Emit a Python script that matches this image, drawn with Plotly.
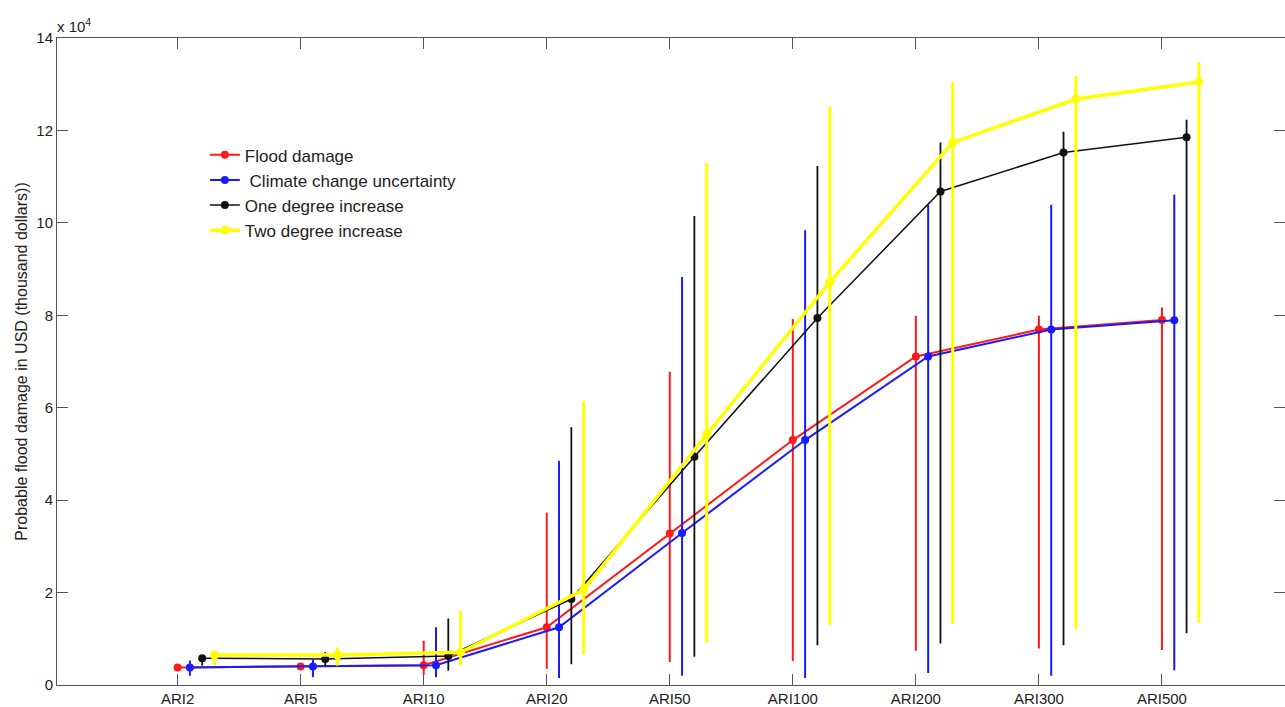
import plotly.graph_objects as go

categories = ["ARI2", "ARI5", "ARI10", "ARI20", "ARI50", "ARI100", "ARI200", "ARI300", "ARI500"]

flood = [3800, 4000, 4300, 12500, 32800, 53000, 71100, 76900, 79000]
flood_hi = [3800, 4000, 9600, 37300, 67800, 79200, 79900, 79900, 81700]
flood_lo = [3800, 4000, 2200, 3500, 5000, 5200, 7400, 7900, 7600]

climate = [3800, 4000, 4300, 12500, 32900, 53000, 71100, 76900, 78900]
climate_hi = [5300, 5500, 12500, 48500, 88300, 98400, 103900, 103900, 106100]
climate_lo = [2000, 1700, 1700, 1500, 2000, 1500, 2600, 2000, 3200]

one_deg = [5800, 5600, 6300, 18600, 49400, 79400, 106800, 115200, 118500]
one_deg_hi = [5800, 7100, 14400, 55800, 101500, 112300, 117400, 119700, 122300]
one_deg_lo = [4200, 4000, 3100, 4500, 6100, 8600, 9000, 8600, 11200]

two_deg = [6500, 6500, 7100, 20600, 54200, 87200, 117400, 126800, 130500]
two_deg_hi = [7200, 8100, 16000, 61400, 112900, 125100, 130500, 131800, 134700]
two_deg_lo = [4200, 4200, 4300, 6700, 9200, 13000, 13200, 12100, 13500]

y_ticks = [0, 20000, 40000, 60000, 80000, 100000, 120000, 140000]
y_tick_text = ["0", "2", "4", "6", "8", "10", "12", "14"]

series = [
    ("Flood damage", flood, flood_hi, flood_lo, "#ff1a1a", 0.0, 2, 8, 2),
    (" Climate change uncertainty", climate, climate_hi, climate_lo, "#1a1aff", 0.1, 2, 8, 2),
    ("One degree increase", one_deg, one_deg_hi, one_deg_lo, "#111111", 0.2, 1.5, 8, 1.8),
    ("Two degree increase", two_deg, two_deg_hi, two_deg_lo, "#ffff00", 0.3, 3.5, 9, 3),
]

FONT = "Liberation Sans, Arial"

fig = go.Figure()
for name, vals, hi, lo, col, off, lw, ms, ew in series:
    xs = [i + 1 + off for i in range(len(categories))]
    fig.add_trace(go.Scatter(
        x=xs, y=vals, name=name, mode="lines+markers",
        line=dict(color=col, width=lw),
        marker=dict(color=col, size=ms, symbol="circle"),
        error_y=dict(type="data", symmetric=False,
                     array=[h - v for h, v in zip(hi, vals)],
                     arrayminus=[v - l for v, l in zip(vals, lo)],
                     color=col, thickness=ew, width=0),
    ))

axis_common = dict(showline=True, linecolor="#555555", linewidth=1, mirror="ticks",
                   ticks="inside", ticklen=11, tickcolor="#555555", showgrid=False,
                   zeroline=False, automargin=False)

fig.update_xaxes(range=[0.02, 10], tickvals=list(range(1, len(categories) + 1)),
                 ticktext=categories,
                 tickfont=dict(family=FONT, size=15, color="#222222"),
                 **axis_common)
fig.update_yaxes(range=[0, 140000], tickvals=y_ticks, ticktext=y_tick_text,
                 tickfont=dict(family=FONT, size=15, color="#222222"),
                 title=dict(text="Probable flood damage in USD (thousand dollars))",
                            font=dict(family=FONT, size=16, color="#222222"),
                            standoff=4),
                 **axis_common)

fig.add_annotation(text="x 10<sup>4</sup>", xref="paper", yref="paper", x=0, y=1,
                   xanchor="left", yanchor="bottom", showarrow=False, xshift=-2, yshift=1,
                   font=dict(family=FONT, size=15, color="#222222"))

fig.update_layout(
    width=1285, height=707,
    margin=dict(l=57, r=0, t=38, b=22),
    paper_bgcolor="white", plot_bgcolor="white",
    showlegend=True,
    legend=dict(x=0.1204, y=0.8465, xanchor="left", yanchor="top", bgcolor="rgba(255,255,255,0)",
                font=dict(family=FONT, size=17, color="#222222"),
                tracegroupgap=0, itemwidth=30),
)

fig.write_html("out.html")
